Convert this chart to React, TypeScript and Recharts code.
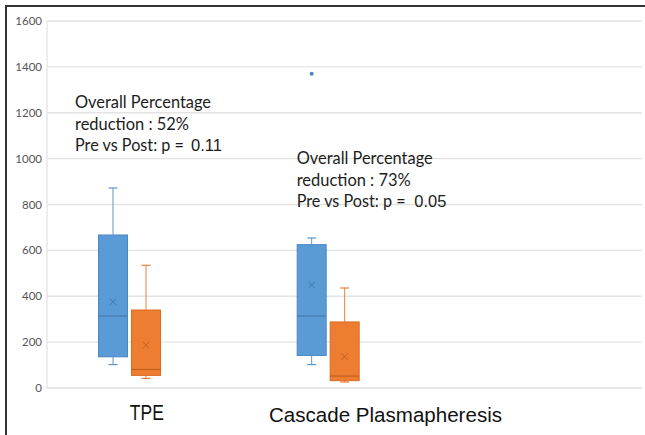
import React from "react";
import { ComposedChart, Bar, XAxis, YAxis, CartesianGrid } from "recharts";

// ---- data ----
const categories = ["TPE", "Cascade Plasmapheresis", ""];
const yTicks = [0, 200, 400, 600, 800, 1000, 1200, 1400, 1600];

const preMin = [102, 102, null];
const preQ1 = [136, 142, null];
const preMedian = [314, 314, null];
const preQ3 = [667, 625, null];
const preMax = [872, 654, null];
const preMean = [376, 449, null];
const preOutliers = [[], [1370], []];

const postMin = [42, 26, null];
const postQ1 = [55, 32, null];
const postMedian = [81, 52, null];
const postQ3 = [340, 288, null];
const postMax = [535, 436, null];
const postMean = [187, 137, null];
const postOutliers = [[], [], []];

type Stats = {
  min: number;
  q1: number;
  median: number;
  q3: number;
  max: number;
  mean: number;
  outliers: number[];
};

function stats(
  i: number,
  mn: (number | null)[],
  q1: (number | null)[],
  md: (number | null)[],
  q3: (number | null)[],
  mx: (number | null)[],
  me: (number | null)[],
  out: number[][]
): Stats | null {
  if (mn[i] == null) return null;
  return {
    min: mn[i] as number,
    q1: q1[i] as number,
    median: md[i] as number,
    q3: q3[i] as number,
    max: mx[i] as number,
    mean: me[i] as number,
    outliers: out[i],
  };
}

const rows = categories.map((name, i) => {
  const pre = stats(i, preMin, preQ1, preMedian, preQ3, preMax, preMean, preOutliers);
  const post = stats(i, postMin, postQ1, postMedian, postQ3, postMax, postMean, postOutliers);
  return {
    name,
    pre,
    post,
    preRange: pre ? [pre.min, pre.max] : null,
    postRange: post ? [post.min, post.max] : null,
  };
});

type Palette = { fill: string; stroke: string; median: string; mean: string; whisker: string };
const BLUE: Palette = { fill: "#5B9BD5", stroke: "#4A88C5", median: "#3F73A8", mean: "#3F73A8", whisker: "#5B95CF" };
const ORANGE: Palette = { fill: "#ED7D31", stroke: "#DA6B22", median: "#B9591A", mean: "#C0601F", whisker: "#E8813F" };

const makeBoxShape = (key: "pre" | "post", pal: Palette) => (props: any) => {
  const { x, y, width, height, payload } = props;
  const s: Stats | null = payload ? payload[key] : null;
  if (!s || !Number.isFinite(x) || !Number.isFinite(y) || !Number.isFinite(height) || !height) return null;
  const top = Math.min(y, y + height);
  const bottom = Math.max(y, y + height);
  const py = (v: number) => bottom - ((v - s.min) / (s.max - s.min)) * (bottom - top);
  const cx = x + width / 2;
  const cap = 4.5;
  const yQ1 = py(s.q1);
  const yQ3 = py(s.q3);
  const yMed = py(s.median);
  const yMean = py(s.mean);
  const m = 3.3;
  return (
    <g>
      <line x1={cx} x2={cx} y1={top} y2={yQ3} stroke={pal.whisker} strokeWidth={1} />
      <line x1={cx} x2={cx} y1={yQ1} y2={bottom} stroke={pal.whisker} strokeWidth={1} />
      <line x1={cx - cap} x2={cx + cap} y1={top} y2={top} stroke={pal.whisker} strokeWidth={1.2} />
      <line x1={cx - cap} x2={cx + cap} y1={bottom} y2={bottom} stroke={pal.whisker} strokeWidth={1.2} />
      <rect x={x + 0.5} y={yQ3} width={width - 1} height={yQ1 - yQ3} fill={pal.fill} stroke={pal.stroke} strokeWidth={1} />
      <line x1={x + 0.5} x2={x + width - 0.5} y1={yMed} y2={yMed} stroke={pal.median} strokeWidth={1} />
      <line x1={cx - m} x2={cx + m} y1={yMean - m} y2={yMean + m} stroke={pal.mean} strokeWidth={0.9} />
      <line x1={cx - m} x2={cx + m} y1={yMean + m} y2={yMean - m} stroke={pal.mean} strokeWidth={0.9} />
      {s.outliers.map((o, k) => (
        <circle key={k} cx={cx} cy={py(o)} r={2} fill={pal.stroke} />
      ))}
    </g>
  );
};

const emptyShape = () => null;

const YTick = (props: any) => {
  const { x, y, payload } = props;
  return (
    <text x={x} y={y + 4} textAnchor="end" fontFamily="Lato, 'Open Sans', sans-serif" fontSize={11.5} fill="#555">
      {payload.value}
    </text>
  );
};

const XTick = (props: any) => {
  const { x, y, payload, index } = props;
  if (!payload || !payload.value) return null;
  if (index === 0) {
    return (
      <text
        x={x + 0.5}
        y={y + 32}
        textAnchor="middle"
        fontFamily="'Liberation Sans Narrow', 'Liberation Sans', Arial, sans-serif"
        fontSize={21.5}
        textLength={34}
        lengthAdjust="spacingAndGlyphs"
        fill="#111"
      >
        {payload.value}
      </text>
    );
  }
  return (
    <text
      x={x + 40.5}
      y={y + 33.7}
      textAnchor="middle"
      fontFamily="'Liberation Sans', Arial, sans-serif"
      fontSize={20.5}
      textLength={233}
      lengthAdjust="spacingAndGlyphs"
      fill="#111"
    >
      {payload.value}
    </text>
  );
};

const calibri = "Lato, 'Open Sans', sans-serif";
const arial = "'Liberation Sans', Arial, sans-serif";

const Annot = ({ x, y0, pct, p, pWidth, pX }: { x: number; y0: number; pct: string; p: string; pWidth: number; pX: number }) => (
  <g fill="#1c1c1c">
    <text x={x} y={y0} fontFamily={calibri} fontSize={16.8} textLength={136} lengthAdjust="spacingAndGlyphs">
      Overall Percentage
    </text>
    <text x={x} y={y0 + 21.7} fontFamily={calibri} fontSize={16.8} textLength={114} lengthAdjust="spacingAndGlyphs">
      {`reduction : ${pct}`}
    </text>
    <text x={x} y={y0 + 42.5} fontFamily={calibri} fontSize={16.8} textLength={109} lengthAdjust="spacingAndGlyphs">
      Pre vs Post: p =
    </text>
    <text x={pX} y={y0 + 42.5} fontFamily={arial} fontSize={16.5} textLength={pWidth} lengthAdjust="spacingAndGlyphs">
      {p}
    </text>
  </g>
);

export default function App() {
  return (
    <div style={{ position: "absolute", left: 0, top: 0, width: 645, height: 435, background: "#fff" }}>
      <ComposedChart
        width={645}
        height={435}
        data={rows}
        margin={{ top: 21, right: 2, bottom: 0, left: 0 }}
        barGap={3}
        barSize={30}
        style={{ position: "absolute", left: 0, top: 0 }}
      >
        <CartesianGrid vertical={false} stroke="#e3e3e3" strokeWidth={1.3} />
        <XAxis
          dataKey="name"
          height={47}
          tickSize={0}
          tickMargin={0}
          axisLine={{ stroke: "#e3e3e3", strokeWidth: 1.3 }}
          tickLine={false}
          tick={XTick}
          interval={0}
        />
        <YAxis
          width={47}
          domain={[0, 1600]}
          ticks={yTicks}
          tickSize={0}
          tickMargin={5}
          axisLine={{ stroke: "#e3e3e3", strokeWidth: 1.3 }}
          tickLine={false}
          tick={<YTick />}
          interval={0}
        />
        <Bar dataKey="preRange" name="Pre" shape={makeBoxShape("pre", BLUE)} isAnimationActive={false} />
        <Bar dataKey="postRange" name="Post" shape={makeBoxShape("post", ORANGE)} isAnimationActive={false} />
        <Bar dataKey="spacer" name="spacer" fill="none" shape={emptyShape} isAnimationActive={false} />
      </ComposedChart>
      <svg width={645} height={435} style={{ position: "absolute", left: 0, top: 0, pointerEvents: "none" }}>
        <rect x={641.8} y={14} width={4} height={380} fill="#fff" />
        <Annot x={75} y0={108.3} pct="52%" p="0.11" pWidth={31} pX={191} />
        <Annot x={296.7} y0={164} pct="73%" p="0.05" pWidth={32} pX={414.3} />
      </svg>
      <div
        style={{
          position: "absolute",
          left: 5,
          top: 5,
          width: 640,
          height: 430,
          borderTop: "2px solid #333",
          borderLeft: "2px solid #333",
          boxSizing: "border-box",
          pointerEvents: "none",
        }}
      />
    </div>
  );
}
